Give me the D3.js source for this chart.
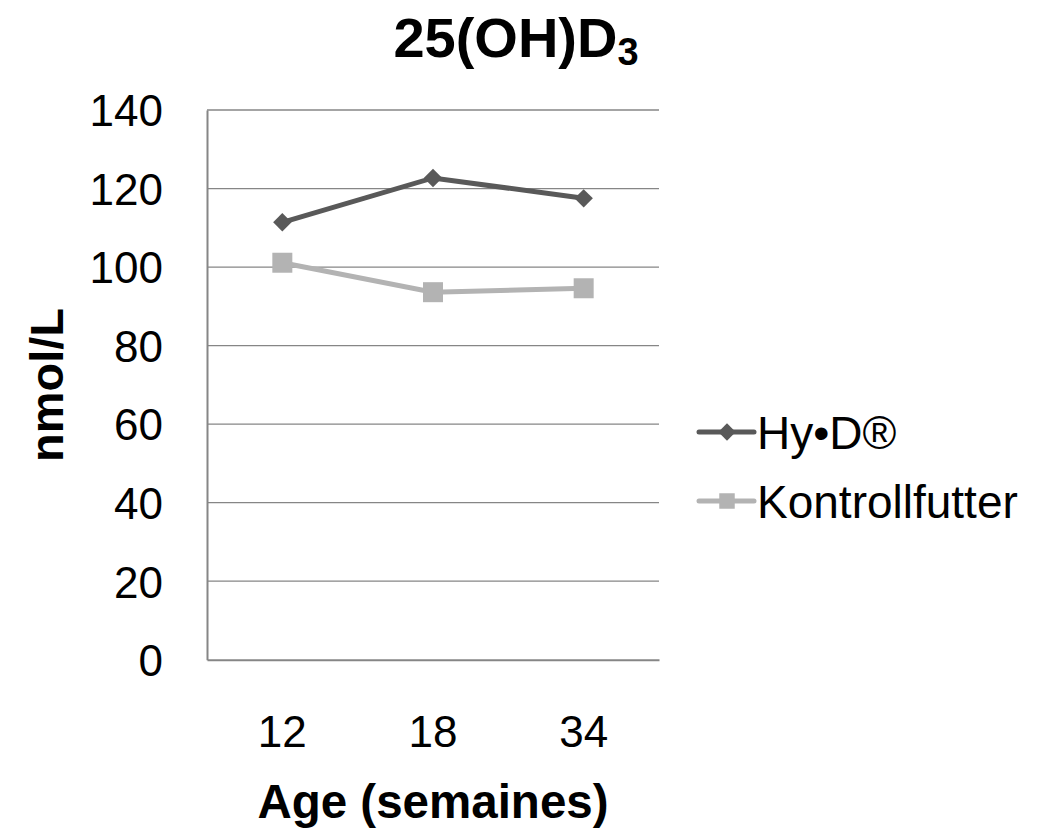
<!DOCTYPE html>
<html><head><meta charset="utf-8">
<script src="https://cdn.jsdelivr.net/npm/d3@7"></script>
<style>body{margin:0;background:#fff}svg{display:block}text{font-family:"Liberation Sans",Arial,sans-serif}</style>
</head><body>
<svg id="c" width="1046" height="829"></svg>
<script>
const categories = ["12", "18", "34"];
const hydValues = [111.4, 122.7, 117.5];
const kontrollValues = [101.1, 93.6, 94.6];
const yTicks = [0, 20, 40, 60, 80, 100, 120, 140];
const seriesNames = ["Hy•D®", "Kontrollfutter"];

(function () {
const svg = d3.select("#c");
const pLeft = 207, pRight = 659, pTop = 110, pBottom = 659.7;
const x = d3.scaleBand().domain(categories).range([pLeft, pRight]);
const y = d3.scaleLinear().domain([0, 140]).range([pBottom, pTop]);

// gridlines
svg.append("g").selectAll("line").data(yTicks.filter(d => d > 0)).join("line")
  .attr("x1", pLeft).attr("x2", pRight)
  .attr("y1", d => y(d)).attr("y2", d => y(d))
  .attr("stroke", "#868686").attr("stroke-width", 1.3);

// axes
const yAxis = svg.append("g").attr("transform", `translate(${pLeft},0)`)
  .call(d3.axisLeft(y).tickValues(yTicks).tickSize(0).tickPadding(44));
yAxis.select(".domain").attr("stroke", "#868686").attr("stroke-width", 2);
yAxis.selectAll("text").attr("font-size", 44).attr("fill", "#000").attr("dy", "0.36em");

const xAxis = svg.append("g").attr("transform", `translate(0,${pBottom})`)
  .call(d3.axisBottom(x).tickSize(0).tickPadding(0));
xAxis.select(".domain").attr("stroke", "#868686").attr("stroke-width", 2);
xAxis.selectAll("text").attr("font-size", 44).attr("fill", "#000").attr("dy", 0).attr("y", 87);

const cx = d => x(d) + x.bandwidth() / 2;
const series = [
  {name: seriesNames[0], values: hydValues, color: "#595959", marker: "diamond"},
  {name: seriesNames[1], values: kontrollValues, color: "#b3b3b3", marker: "square"}
];
const line = d3.line().x((d, i) => cx(categories[i])).y(d => y(d));

series.forEach(s => {
  svg.append("path").datum(s.values).attr("d", line)
    .attr("fill", "none").attr("stroke", s.color).attr("stroke-width", 5);
  const sym = s.marker === "diamond"
    ? d3.symbol().type(d3.symbolSquare).size(170)
    : d3.symbol().type(d3.symbolSquare).size(400);
  svg.append("g").selectAll("path").data(s.values).join("path")
    .attr("d", sym)
    .attr("transform", (d, i) => `translate(${cx(categories[i])},${y(d)})` + (s.marker === "diamond" ? " rotate(45)" : ""))
    .attr("fill", s.color);
});

// title
const t = svg.append("text").attr("x", 516).attr("y", 57).attr("text-anchor", "middle")
  .attr("font-size", 56).attr("font-weight", "bold").attr("fill", "#000");
t.append("tspan").text("25(OH)D");
t.append("tspan").text("3").attr("font-size", 38).attr("dy", 8);

// axis titles
svg.append("text").attr("x", 433).attr("y", 818).attr("text-anchor", "middle")
  .attr("font-size", 47.5).attr("font-weight", "bold").attr("fill", "#000").text("Age (semaines)");
svg.append("text").attr("transform", "translate(63,385) rotate(-90)").attr("text-anchor", "middle")
  .attr("font-size", 47).attr("font-weight", "bold").attr("fill", "#000").text("nmol/L");

// legend
const legY = [432, 501];
series.forEach((s, i) => {
  const g = svg.append("g").attr("transform", `translate(0,${legY[i]})`);
  g.append("line").attr("x1", 699).attr("x2", 754).attr("y1", 0).attr("y2", 0)
    .attr("stroke", s.color).attr("stroke-width", 5).attr("stroke-linecap", "round");
  g.append("path").attr("d", d3.symbol().type(d3.symbolSquare).size(s.marker === "diamond" ? 150 : 240))
    .attr("transform", `translate(727,0)` + (s.marker === "diamond" ? " rotate(45)" : "")).attr("fill", s.color);
  g.append("text").attr("x", 757).attr("y", 0).attr("dy", "0.36em")
    .attr("font-size", 46).attr("fill", "#000").text(s.name);
});
})();
</script>
</body></html>
